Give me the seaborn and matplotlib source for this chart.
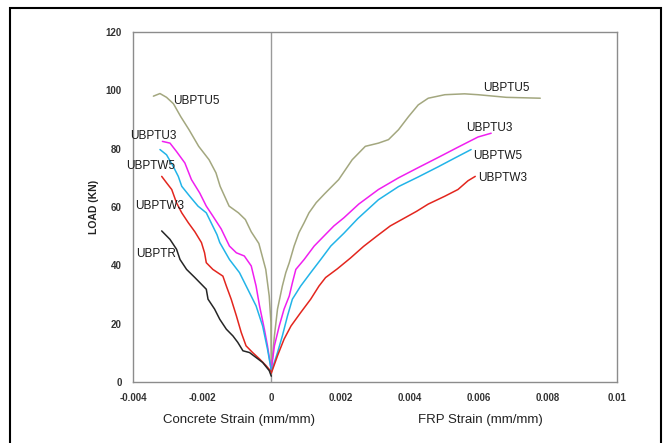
import matplotlib
matplotlib.use("Agg")
import matplotlib.pyplot as plt
import seaborn as sns
from matplotlib.patches import Rectangle

# concrete strain side (negative strain), load in kN
u5_conc_x = [-0.00341, -0.00322, -0.00303, -0.00283, -0.00262, -0.00238, -0.00210, -0.00180,
             -0.00160, -0.00148, -0.00122, -0.00095, -0.00075, -0.00058, -0.00036, -0.00016,
             -0.00006, -0.00001, 0.0]
u5_conc_y = [98.0, 98.9, 97.6, 95.4, 91.0, 86.5, 80.8, 76.2, 71.7, 67.1, 60.3, 58.0, 55.7,
             51.5, 47.5, 38.6, 29.5, 20.5, 4.5]

u3_conc_x = [-0.00315, -0.00293, -0.00274, -0.00250, -0.00231, -0.00207, -0.00188, -0.00169,
             -0.00145, -0.00121, -0.00101, -0.00078, -0.00058, -0.00044, -0.00034, -0.00020,
             -0.00011, 0.0]
u3_conc_y = [82.5, 81.9, 79.0, 75.1, 69.4, 64.8, 60.3, 56.9, 52.5, 46.6, 44.3, 43.2, 39.8,
             32.9, 26.1, 18.1, 12.4, 4.0]

w5_conc_x = [-0.00322, -0.00303, -0.00284, -0.00269, -0.00259, -0.00236, -0.00212, -0.00188,
             -0.00169, -0.00157, -0.00149, -0.00121, -0.00092, -0.00068, -0.00044, -0.00025,
             -0.00011, 0.0]
w5_conc_y = [79.7, 77.9, 74.0, 70.5, 67.1, 63.7, 60.3, 58.0, 53.4, 50.5, 47.8, 42.0, 37.5,
             31.8, 26.1, 19.2, 11.3, 4.0]

w3_conc_x = [-0.00317, -0.00303, -0.00288, -0.00274, -0.00259, -0.00240, -0.00221, -0.00202,
             -0.00193, -0.00188, -0.00169, -0.00140, -0.00130, -0.00116, -0.00101, -0.00087,
             -0.00073, -0.00054, -0.00034, -0.00015, 0.0]
w3_conc_y = [70.5, 68.3, 66.0, 61.4, 58.0, 54.6, 51.5, 47.8, 44.3, 40.9, 38.6, 36.3, 32.9,
             28.4, 22.7, 17.0, 12.4, 10.1, 7.9, 5.6, 3.5]

r_conc_x = [-0.00317, -0.00293, -0.00274, -0.00264, -0.00245, -0.00221, -0.00202, -0.00188,
            -0.00183, -0.00164, -0.00149, -0.00130, -0.00111, -0.00097, -0.00082, -0.00063,
            -0.00044, -0.00025, -0.00006, 0.0]
r_conc_y = [51.8, 48.9, 45.5, 42.0, 38.6, 35.8, 33.5, 31.8, 28.4, 25.0, 21.5, 18.1, 15.8,
            13.6, 10.7, 10.1, 8.4, 6.7, 3.9, 2.0]

# FRP strain side (positive strain)
u5_frp_x = [0.0, 0.00009, 0.00018, 0.00032, 0.00042, 0.00052, 0.00066, 0.00080, 0.00095,
            0.00109, 0.00130, 0.00154, 0.00195, 0.00234, 0.00272, 0.00310, 0.00339, 0.00368,
            0.00397, 0.00425, 0.00454, 0.00502, 0.00559, 0.00598, 0.00680, 0.00778]
u5_frp_y = [4.0, 15.8, 25.0, 32.9, 37.5, 40.9, 46.6, 51.2, 54.6, 58.0, 61.5, 64.5, 69.4,
            76.2, 80.8, 81.9, 83.1, 86.5, 91.0, 95.0, 97.3, 98.5, 98.8, 98.5, 97.6, 97.3]

u3_frp_x = [0.0, 0.00009, 0.00023, 0.00037, 0.00052, 0.00061, 0.00071, 0.00095, 0.00124,
            0.00152, 0.00181, 0.00210, 0.00253, 0.00310, 0.00368, 0.00425, 0.00483, 0.00540,
            0.00598, 0.00636]
u3_frp_y = [4.0, 12.4, 19.2, 25.0, 29.5, 34.0, 38.6, 42.0, 46.6, 50.0, 53.5, 56.3, 61.0,
            66.0, 70.0, 73.5, 77.0, 80.5, 84.0, 85.3]

w5_frp_x = [0.0, 0.00018, 0.00032, 0.00047, 0.00061, 0.00085, 0.00114, 0.00143, 0.00172,
            0.00210, 0.00250, 0.00310, 0.00368, 0.00425, 0.00483, 0.00531, 0.00578]
w5_frp_y = [3.5, 10.1, 15.8, 22.7, 28.4, 32.9, 37.5, 42.0, 46.6, 51.0, 56.0, 62.5, 67.0,
            70.3, 73.8, 76.8, 79.7]

w3_frp_x = [0.0, 0.00018, 0.00037, 0.00057, 0.00085, 0.00114, 0.00138, 0.00157, 0.00191,
            0.00229, 0.00267, 0.00305, 0.00344, 0.00382, 0.00420, 0.00454, 0.00502, 0.00540,
            0.00569, 0.00590]
w3_frp_y = [3.0, 9.0, 14.7, 19.2, 23.8, 28.4, 32.9, 35.8, 38.8, 42.5, 46.5, 50.0, 53.5,
            56.0, 58.5, 61.0, 63.7, 66.0, 69.0, 70.5]

# curve labels: (text, strain, load)
left_labels = [("UBPTU5", -0.00284, 96.2), ("UBPTU3", -0.00408, 84.2),
               ("UBPTW5", -0.00420, 74.2), ("UBPTW3", -0.00394, 60.3),
               ("UBPTR", -0.00390, 43.8)]
right_labels = [("UBPTU5", 0.00612, 100.7), ("UBPTU3", 0.00565, 87.0),
                ("UBPTW5", 0.00583, 77.4), ("UBPTW3", 0.00598, 70.0)]

x_ticks = [-0.004, -0.002, 0, 0.002, 0.004, 0.006, 0.008, 0.01]
x_tick_labels = ["-0.004", "-0.002", "0", "0.002", "0.004", "0.006", "0.008", "0.01"]
y_ticks = [0, 20, 40, 60, 80, 100, 120]

OLIVE = "#a3a77f"
MAGENTA = "#f01ff0"
CYAN = "#22b4e8"
RED = "#e3261e"
BLACK = "#262626"

sns.set_style("white")
plt.rcParams["font.family"] = ["Liberation Sans", "DejaVu Sans"]

fig = plt.figure(figsize=(6.7, 4.43), dpi=100)
ax = fig.add_axes([133 / 670, 1 - 382 / 443, (617 - 133) / 670, 350 / 443])

curves = [
    (u5_conc_x, u5_conc_y, OLIVE), (u5_frp_x, u5_frp_y, OLIVE),
    (u3_conc_x, u3_conc_y, MAGENTA), (u3_frp_x, u3_frp_y, MAGENTA),
    (w5_conc_x, w5_conc_y, CYAN), (w5_frp_x, w5_frp_y, CYAN),
    (w3_conc_x, w3_conc_y, RED), (w3_frp_x, w3_frp_y, RED),
    (r_conc_x, r_conc_y, BLACK),
]
for xs, ys, c in curves:
    sns.lineplot(x=xs, y=ys, sort=False, estimator=None, color=c, lw=1.1, ax=ax)

ax.axvline(0, color="#9a9a9a", lw=1.0, zorder=0)

for txt, sx, ly in left_labels + right_labels:
    ax.text(sx, ly, txt, fontsize=8.5, color="#1a1a1a", ha="left", va="center",
            clip_on=False)

ax.set_xlim(-0.004, 0.01)
ax.set_ylim(0, 120)
ax.set_xticks(x_ticks)
ax.set_xticklabels(x_tick_labels)
ax.set_yticks(y_ticks)
ax.tick_params(axis="both", labelsize=7, colors="#333333", length=3, width=0.8,
               direction="out", pad=5)
for lab in ax.get_xticklabels() + ax.get_yticklabels():
    lab.set_fontweight("bold")
ax.tick_params(axis="both", color="#888888")
for side in ["left", "bottom", "top", "right"]:
    ax.spines[side].set_color("#8c8c8c")
    ax.spines[side].set_linewidth(1.0)

ax.set_ylabel("LOAD (KN)", fontsize=7.5, fontweight="bold", color="#222222", labelpad=5)
fig.text(239 / 670, 1 - 420 / 443, "Concrete Strain (mm/mm)", fontsize=9.5,
         ha="center", va="center", color="#222222")
fig.text(480 / 670, 1 - 420 / 443, "FRP Strain (mm/mm)", fontsize=9.5,
         ha="center", va="center", color="#222222")

fig.patches.append(Rectangle((10 / 670, -0.05), 651 / 670, 1.05 - 8 / 443,
                             transform=fig.transFigure, fill=False, edgecolor="black",
                             lw=1.5))

fig.savefig("out.png", dpi=100)
